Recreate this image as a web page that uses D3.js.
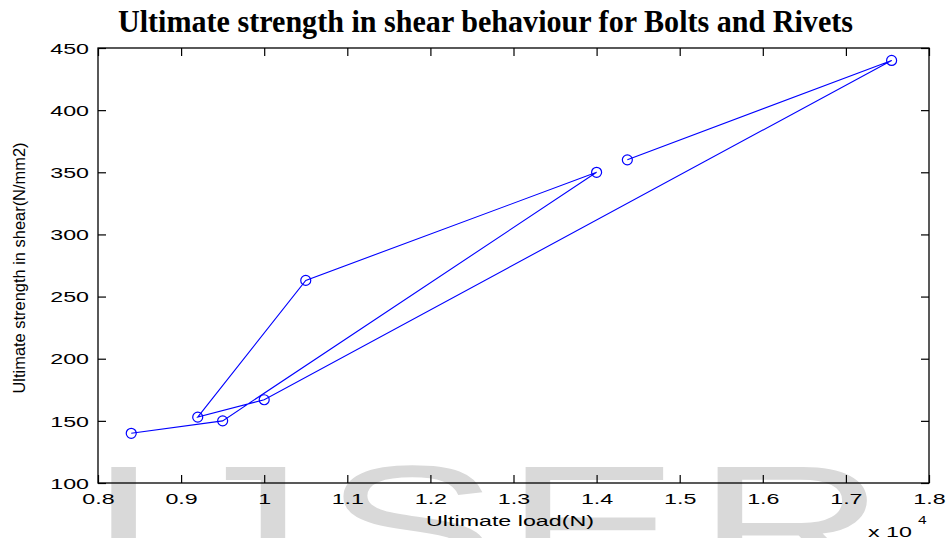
<!DOCTYPE html>
<html>
<head>
<meta charset="utf-8">
<script src="https://cdn.jsdelivr.net/npm/d3@7"></script>
<style>
  html, body { margin: 0; padding: 0; background: #ffffff; }
  svg { display: block; }
</style>
</head>
<body>
<svg id="chart" width="946" height="538"></svg>
<script>
// ---- data ----
const titleText = "Ultimate strength in shear behaviour for Bolts and Rivets";
const xLabel = "Ultimate load(N)";
const yLabel = "Ultimate strength in shear(N/mm2)";
// ultimate load in units of 10^4 N, in plotted order
const loadValues = [0.84, 0.95, 1.40, 1.05, 0.92, 1.00, 1.755, 1.437];
const strengthValues = [140, 150, 350, 263, 153, 167, 440, 360];
const xTicks = [0.8, 0.9, 1.0, 1.1, 1.2, 1.3, 1.4, 1.5, 1.6, 1.7, 1.8];
const yTicks = [100, 150, 200, 250, 300, 350, 400, 450];
const watermarkLetters = ["I", "J", "S", "E", "R"];

// ---- layout ----
const plotL = 98, plotR = 929, plotT = 48, plotB = 483;
const stretch = 1.55;
const wmX = [87, 173, 323, 504, 696];
const font = "'Liberation Sans', Arial, Helvetica, sans-serif";

const svg = d3.select("#chart");

// watermark (behind everything)
const wm = svg.append("g").attr("fill", "#d9d9d9");
watermarkLetters.forEach((ch, i) => {
  wm.append("text")
    .attr("transform", `translate(${wmX[i]},584) scale(${stretch},1)`)
    .attr("font-family", font)
    .attr("font-size", 170)
    .text(ch);
});

const x = d3.scaleLinear().domain([0.8, 1.8]).range([plotL, plotR]);
const y = d3.scaleLinear().domain([100, 450]).range([plotB, plotT]);

// axes
const fmtX = d => (d === 1 ? "1" : d3.format(".1f")(d));
const gx = svg.append("g").attr("transform", `translate(0,${plotB})`)
  .call(d3.axisBottom(x).tickValues(xTicks).tickFormat(fmtX).tickSizeInner(-8).tickSizeOuter(0).tickPadding(10));
const gy = svg.append("g").attr("transform", `translate(${plotL},0)`)
  .call(d3.axisLeft(y).tickValues(yTicks).tickFormat(d3.format("d")).tickSizeInner(-8).tickSizeOuter(0));
const gxt = svg.append("g").attr("transform", `translate(0,${plotT})`)
  .call(d3.axisTop(x).tickValues(xTicks).tickFormat("").tickSizeInner(-8).tickSizeOuter(0));
const gyr = svg.append("g").attr("transform", `translate(${plotR},0)`)
  .call(d3.axisRight(y).tickValues(yTicks).tickFormat("").tickSizeInner(-8).tickSizeOuter(0));

[gx, gy, gxt, gyr].forEach(g => {
  g.select(".domain").remove();
  g.selectAll(".tick line").attr("stroke", "#000").attr("stroke-width", 1.2);
  g.selectAll("text").attr("font-family", font).attr("font-size", 15).attr("fill", "#000");
});
gx.selectAll(".tick text")
  .attr("transform", `scale(${stretch},1)`)
  .attr("y", 10).attr("dy", "0.71em");
gy.selectAll(".tick text")
  .attr("transform", `scale(${stretch},1)`)
  .attr("x", -9 / stretch).attr("dy", "0.35em");

// box
svg.append("rect")
  .attr("x", plotL).attr("y", plotT)
  .attr("width", plotR - plotL).attr("height", plotB - plotT)
  .attr("fill", "none").attr("stroke", "#000").attr("stroke-width", 1.3);

// data line and markers
const pts = loadValues.map((v, i) => [v, strengthValues[i]]);
svg.append("path")
  .datum(pts)
  .attr("fill", "none")
  .attr("stroke", "#0000ff")
  .attr("stroke-width", 1.1)
  .attr("d", d3.line().x(d => x(d[0])).y(d => y(d[1])));
svg.append("g").selectAll("circle")
  .data(pts).join("circle")
  .attr("cx", d => x(d[0])).attr("cy", d => y(d[1]))
  .attr("r", 5)
  .attr("fill", "none").attr("stroke", "#0000ff").attr("stroke-width", 1.2);

// title
svg.append("text")
  .attr("x", 118).attr("y", 32)
  .attr("font-family", "'Liberation Serif', 'Times New Roman', serif")
  .attr("font-weight", "bold")
  .attr("font-size", 32)
  .attr("textLength", 735)
  .attr("lengthAdjust", "spacingAndGlyphs")
  .text(titleText);

// axis labels
svg.append("text")
  .attr("transform", `translate(510,526) scale(${stretch},1)`)
  .attr("text-anchor", "middle")
  .attr("font-family", font).attr("font-size", 15)
  .text(xLabel);
svg.append("text")
  .attr("transform", "translate(25,268) rotate(-90)")
  .attr("text-anchor", "middle")
  .attr("font-family", font).attr("font-size", 16)
  .attr("textLength", 251).attr("lengthAdjust", "spacingAndGlyphs")
  .text(yLabel);

// exponent label
svg.append("text")
  .attr("transform", `translate(868,537) scale(${stretch},1)`)
  .attr("font-family", font).attr("font-size", 15)
  .text("x 10");
svg.append("text")
  .attr("transform", `translate(918,524) scale(${stretch},1)`)
  .attr("font-family", font).attr("font-size", 10)
  .text("4");
</script>
</body>
</html>
